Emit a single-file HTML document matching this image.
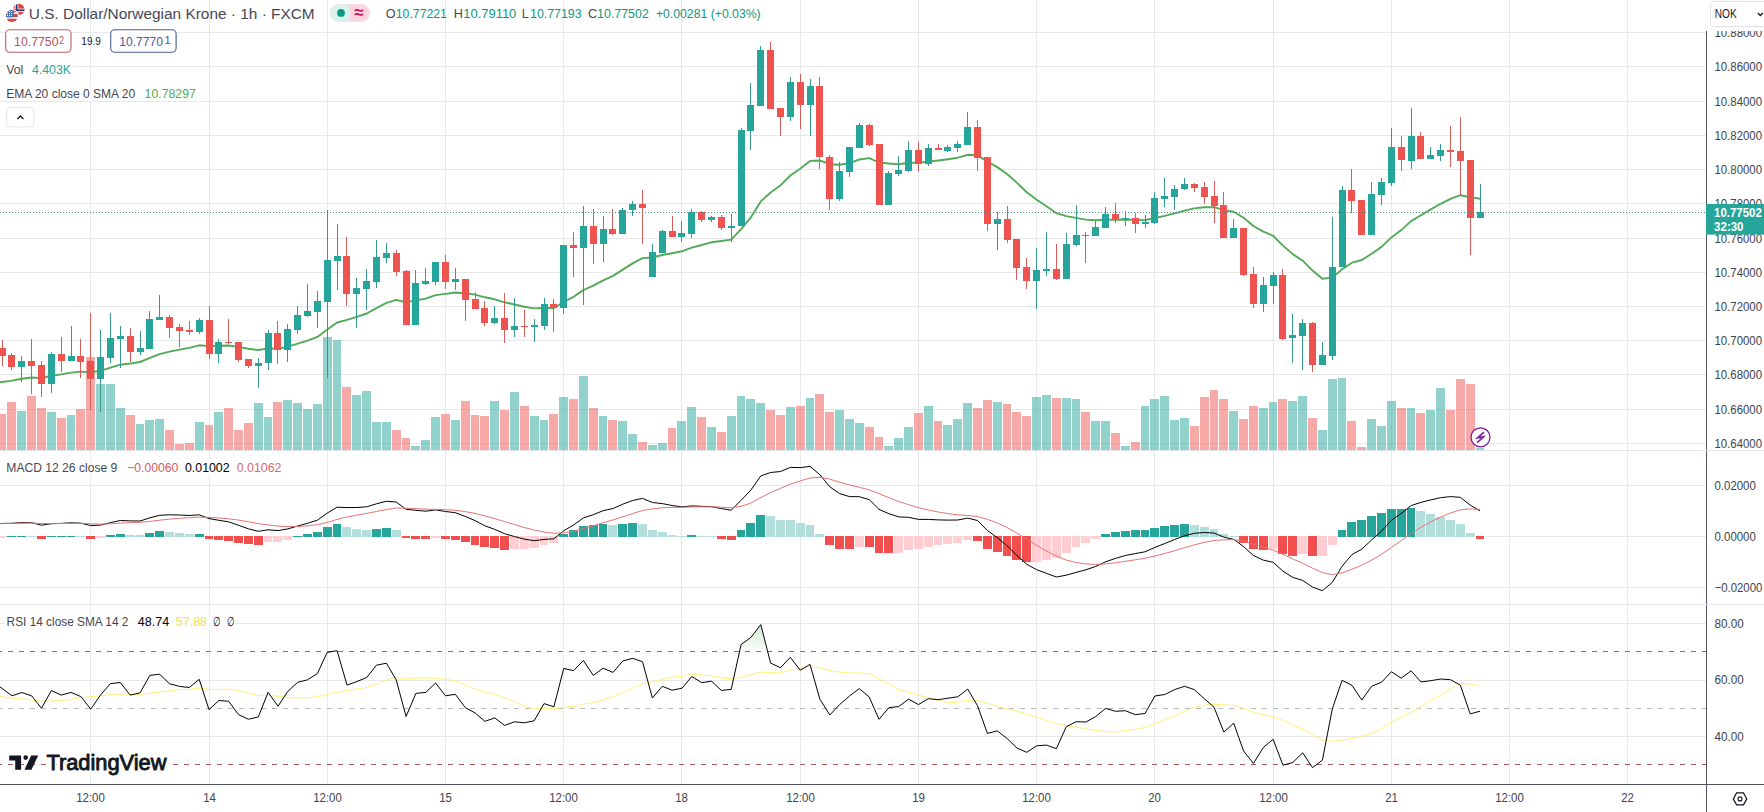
<!DOCTYPE html>
<html><head><meta charset="utf-8"><title>USDNOK chart</title><style>
html,body{margin:0;padding:0;background:#fff;}
body{width:1764px;height:812px;overflow:hidden;position:relative;}
</style></head><body>
<svg width="1764" height="812" viewBox="0 0 1764 812" font-family="Liberation Sans, Arial, sans-serif" style="position:absolute;left:0;top:0">
<rect width="1764" height="812" fill="#fff"/>
<rect x="90" y="0" width="1" height="784" fill="#e7e8eb"/>
<rect x="209" y="0" width="1" height="784" fill="#e7e8eb"/>
<rect x="327" y="0" width="1" height="784" fill="#e7e8eb"/>
<rect x="445" y="0" width="1" height="784" fill="#e7e8eb"/>
<rect x="563" y="0" width="1" height="784" fill="#e7e8eb"/>
<rect x="681" y="0" width="1" height="784" fill="#e7e8eb"/>
<rect x="800" y="0" width="1" height="784" fill="#e7e8eb"/>
<rect x="918" y="0" width="1" height="784" fill="#e7e8eb"/>
<rect x="1036" y="0" width="1" height="784" fill="#e7e8eb"/>
<rect x="1154" y="0" width="1" height="784" fill="#e7e8eb"/>
<rect x="1273" y="0" width="1" height="784" fill="#e7e8eb"/>
<rect x="1391" y="0" width="1" height="784" fill="#e7e8eb"/>
<rect x="1509" y="0" width="1" height="784" fill="#e7e8eb"/>
<rect x="1627" y="0" width="1" height="784" fill="#e7e8eb"/>
<rect x="0" y="443" width="1706" height="1" fill="#e7e8eb"/>
<rect x="0" y="409" width="1706" height="1" fill="#e7e8eb"/>
<rect x="0" y="374" width="1706" height="1" fill="#e7e8eb"/>
<rect x="0" y="340" width="1706" height="1" fill="#e7e8eb"/>
<rect x="0" y="306" width="1706" height="1" fill="#e7e8eb"/>
<rect x="0" y="272" width="1706" height="1" fill="#e7e8eb"/>
<rect x="0" y="238" width="1706" height="1" fill="#e7e8eb"/>
<rect x="0" y="203" width="1706" height="1" fill="#e7e8eb"/>
<rect x="0" y="169" width="1706" height="1" fill="#e7e8eb"/>
<rect x="0" y="135" width="1706" height="1" fill="#e7e8eb"/>
<rect x="0" y="101" width="1706" height="1" fill="#e7e8eb"/>
<rect x="0" y="66" width="1706" height="1" fill="#e7e8eb"/>
<rect x="0" y="32" width="1706" height="1" fill="#e7e8eb"/>
<rect x="0" y="485" width="1706" height="1" fill="#e7e8eb"/>
<rect x="0" y="536" width="1706" height="1" fill="#e7e8eb"/>
<rect x="0" y="587" width="1706" height="1" fill="#e7e8eb"/>
<rect x="0" y="623" width="1706" height="1" fill="#e7e8eb"/>
<rect x="0" y="680" width="1706" height="1" fill="#e7e8eb"/>
<rect x="0" y="736" width="1706" height="1" fill="#e7e8eb"/>
<rect x="-2" y="414" width="8" height="36" fill="rgba(239,83,80,0.5)"/>
<rect x="7" y="402" width="9" height="48" fill="rgba(239,83,80,0.5)"/>
<rect x="17" y="411" width="9" height="39" fill="rgba(38,166,154,0.5)"/>
<rect x="27" y="396" width="9" height="54" fill="rgba(239,83,80,0.5)"/>
<rect x="37" y="408" width="9" height="42" fill="rgba(239,83,80,0.5)"/>
<rect x="47" y="412" width="9" height="38" fill="rgba(38,166,154,0.5)"/>
<rect x="57" y="418" width="9" height="32" fill="rgba(239,83,80,0.5)"/>
<rect x="67" y="415" width="8" height="35" fill="rgba(38,166,154,0.5)"/>
<rect x="76" y="409" width="9" height="41" fill="rgba(239,83,80,0.5)"/>
<rect x="86" y="357" width="9" height="93" fill="rgba(239,83,80,0.5)"/>
<rect x="96" y="384" width="9" height="66" fill="rgba(38,166,154,0.5)"/>
<rect x="106" y="384" width="9" height="66" fill="rgba(38,166,154,0.5)"/>
<rect x="116" y="408" width="9" height="42" fill="rgba(38,166,154,0.5)"/>
<rect x="126" y="415" width="9" height="35" fill="rgba(239,83,80,0.5)"/>
<rect x="136" y="424" width="8" height="26" fill="rgba(38,166,154,0.5)"/>
<rect x="145" y="420" width="9" height="30" fill="rgba(38,166,154,0.5)"/>
<rect x="155" y="419" width="9" height="31" fill="rgba(38,166,154,0.5)"/>
<rect x="165" y="430" width="9" height="20" fill="rgba(239,83,80,0.5)"/>
<rect x="175" y="444" width="9" height="6" fill="rgba(239,83,80,0.5)"/>
<rect x="185" y="443" width="9" height="7" fill="rgba(239,83,80,0.5)"/>
<rect x="195" y="422" width="9" height="28" fill="rgba(38,166,154,0.5)"/>
<rect x="205" y="425" width="8" height="25" fill="rgba(239,83,80,0.5)"/>
<rect x="214" y="412" width="9" height="38" fill="rgba(38,166,154,0.5)"/>
<rect x="224" y="408" width="9" height="42" fill="rgba(239,83,80,0.5)"/>
<rect x="234" y="430" width="9" height="20" fill="rgba(239,83,80,0.5)"/>
<rect x="244" y="423" width="9" height="27" fill="rgba(239,83,80,0.5)"/>
<rect x="254" y="403" width="9" height="47" fill="rgba(38,166,154,0.5)"/>
<rect x="264" y="417" width="8" height="33" fill="rgba(38,166,154,0.5)"/>
<rect x="273" y="402" width="9" height="48" fill="rgba(239,83,80,0.5)"/>
<rect x="283" y="400" width="9" height="50" fill="rgba(38,166,154,0.5)"/>
<rect x="293" y="403" width="9" height="47" fill="rgba(38,166,154,0.5)"/>
<rect x="303" y="409" width="9" height="41" fill="rgba(38,166,154,0.5)"/>
<rect x="313" y="404" width="9" height="46" fill="rgba(38,166,154,0.5)"/>
<rect x="323" y="337" width="9" height="113" fill="rgba(38,166,154,0.5)"/>
<rect x="333" y="340" width="8" height="110" fill="rgba(38,166,154,0.5)"/>
<rect x="342" y="387" width="9" height="63" fill="rgba(239,83,80,0.5)"/>
<rect x="352" y="395" width="9" height="55" fill="rgba(38,166,154,0.5)"/>
<rect x="362" y="391" width="9" height="59" fill="rgba(38,166,154,0.5)"/>
<rect x="372" y="422" width="9" height="28" fill="rgba(38,166,154,0.5)"/>
<rect x="382" y="422" width="9" height="28" fill="rgba(38,166,154,0.5)"/>
<rect x="392" y="430" width="9" height="20" fill="rgba(239,83,80,0.5)"/>
<rect x="402" y="438" width="8" height="12" fill="rgba(239,83,80,0.5)"/>
<rect x="411" y="446" width="9" height="4" fill="rgba(38,166,154,0.5)"/>
<rect x="421" y="440" width="9" height="10" fill="rgba(38,166,154,0.5)"/>
<rect x="431" y="417" width="9" height="33" fill="rgba(38,166,154,0.5)"/>
<rect x="441" y="414" width="9" height="36" fill="rgba(239,83,80,0.5)"/>
<rect x="451" y="420" width="9" height="30" fill="rgba(38,166,154,0.5)"/>
<rect x="461" y="401" width="9" height="49" fill="rgba(239,83,80,0.5)"/>
<rect x="471" y="415" width="8" height="35" fill="rgba(239,83,80,0.5)"/>
<rect x="480" y="416" width="9" height="34" fill="rgba(239,83,80,0.5)"/>
<rect x="490" y="401" width="9" height="49" fill="rgba(38,166,154,0.5)"/>
<rect x="500" y="410" width="9" height="40" fill="rgba(239,83,80,0.5)"/>
<rect x="510" y="392" width="9" height="58" fill="rgba(38,166,154,0.5)"/>
<rect x="520" y="406" width="9" height="44" fill="rgba(239,83,80,0.5)"/>
<rect x="530" y="416" width="9" height="34" fill="rgba(38,166,154,0.5)"/>
<rect x="540" y="420" width="8" height="30" fill="rgba(38,166,154,0.5)"/>
<rect x="549" y="414" width="9" height="36" fill="rgba(239,83,80,0.5)"/>
<rect x="559" y="397" width="9" height="53" fill="rgba(38,166,154,0.5)"/>
<rect x="569" y="399" width="9" height="51" fill="rgba(239,83,80,0.5)"/>
<rect x="579" y="376" width="9" height="74" fill="rgba(38,166,154,0.5)"/>
<rect x="589" y="408" width="9" height="42" fill="rgba(239,83,80,0.5)"/>
<rect x="599" y="416" width="8" height="34" fill="rgba(38,166,154,0.5)"/>
<rect x="608" y="420" width="9" height="30" fill="rgba(239,83,80,0.5)"/>
<rect x="618" y="421" width="9" height="29" fill="rgba(38,166,154,0.5)"/>
<rect x="628" y="434" width="9" height="16" fill="rgba(38,166,154,0.5)"/>
<rect x="638" y="442" width="9" height="8" fill="rgba(239,83,80,0.5)"/>
<rect x="648" y="445" width="9" height="5" fill="rgba(38,166,154,0.5)"/>
<rect x="658" y="443" width="9" height="7" fill="rgba(38,166,154,0.5)"/>
<rect x="668" y="428" width="8" height="22" fill="rgba(239,83,80,0.5)"/>
<rect x="677" y="421" width="9" height="29" fill="rgba(38,166,154,0.5)"/>
<rect x="687" y="407" width="9" height="43" fill="rgba(38,166,154,0.5)"/>
<rect x="697" y="417" width="9" height="33" fill="rgba(239,83,80,0.5)"/>
<rect x="707" y="427" width="9" height="23" fill="rgba(38,166,154,0.5)"/>
<rect x="717" y="432" width="9" height="18" fill="rgba(239,83,80,0.5)"/>
<rect x="727" y="416" width="9" height="34" fill="rgba(38,166,154,0.5)"/>
<rect x="737" y="396" width="8" height="54" fill="rgba(38,166,154,0.5)"/>
<rect x="746" y="399" width="9" height="51" fill="rgba(38,166,154,0.5)"/>
<rect x="756" y="403" width="9" height="47" fill="rgba(38,166,154,0.5)"/>
<rect x="766" y="410" width="9" height="40" fill="rgba(239,83,80,0.5)"/>
<rect x="776" y="415" width="9" height="35" fill="rgba(239,83,80,0.5)"/>
<rect x="786" y="407" width="9" height="43" fill="rgba(38,166,154,0.5)"/>
<rect x="796" y="406" width="9" height="44" fill="rgba(239,83,80,0.5)"/>
<rect x="806" y="398" width="8" height="52" fill="rgba(38,166,154,0.5)"/>
<rect x="815" y="394" width="9" height="56" fill="rgba(239,83,80,0.5)"/>
<rect x="825" y="412" width="9" height="38" fill="rgba(239,83,80,0.5)"/>
<rect x="835" y="410" width="9" height="40" fill="rgba(38,166,154,0.5)"/>
<rect x="845" y="419" width="9" height="31" fill="rgba(38,166,154,0.5)"/>
<rect x="855" y="423" width="9" height="27" fill="rgba(38,166,154,0.5)"/>
<rect x="865" y="427" width="9" height="23" fill="rgba(239,83,80,0.5)"/>
<rect x="875" y="437" width="8" height="13" fill="rgba(239,83,80,0.5)"/>
<rect x="884" y="446" width="9" height="4" fill="rgba(38,166,154,0.5)"/>
<rect x="894" y="438" width="9" height="12" fill="rgba(38,166,154,0.5)"/>
<rect x="904" y="427" width="9" height="23" fill="rgba(38,166,154,0.5)"/>
<rect x="914" y="413" width="9" height="37" fill="rgba(239,83,80,0.5)"/>
<rect x="924" y="406" width="9" height="44" fill="rgba(38,166,154,0.5)"/>
<rect x="934" y="421" width="8" height="29" fill="rgba(239,83,80,0.5)"/>
<rect x="943" y="425" width="9" height="25" fill="rgba(38,166,154,0.5)"/>
<rect x="953" y="419" width="9" height="31" fill="rgba(38,166,154,0.5)"/>
<rect x="963" y="403" width="9" height="47" fill="rgba(38,166,154,0.5)"/>
<rect x="973" y="408" width="9" height="42" fill="rgba(239,83,80,0.5)"/>
<rect x="983" y="400" width="9" height="50" fill="rgba(239,83,80,0.5)"/>
<rect x="993" y="402" width="9" height="48" fill="rgba(38,166,154,0.5)"/>
<rect x="1003" y="404" width="8" height="46" fill="rgba(239,83,80,0.5)"/>
<rect x="1012" y="412" width="9" height="38" fill="rgba(239,83,80,0.5)"/>
<rect x="1022" y="416" width="9" height="34" fill="rgba(239,83,80,0.5)"/>
<rect x="1032" y="397" width="9" height="53" fill="rgba(38,166,154,0.5)"/>
<rect x="1042" y="395" width="9" height="55" fill="rgba(38,166,154,0.5)"/>
<rect x="1052" y="398" width="9" height="52" fill="rgba(239,83,80,0.5)"/>
<rect x="1062" y="398" width="9" height="52" fill="rgba(38,166,154,0.5)"/>
<rect x="1072" y="399" width="8" height="51" fill="rgba(38,166,154,0.5)"/>
<rect x="1081" y="412" width="9" height="38" fill="rgba(239,83,80,0.5)"/>
<rect x="1091" y="421" width="9" height="29" fill="rgba(38,166,154,0.5)"/>
<rect x="1101" y="421" width="9" height="29" fill="rgba(38,166,154,0.5)"/>
<rect x="1111" y="433" width="9" height="17" fill="rgba(239,83,80,0.5)"/>
<rect x="1121" y="446" width="9" height="4" fill="rgba(38,166,154,0.5)"/>
<rect x="1131" y="442" width="9" height="8" fill="rgba(239,83,80,0.5)"/>
<rect x="1141" y="406" width="8" height="44" fill="rgba(38,166,154,0.5)"/>
<rect x="1150" y="399" width="9" height="51" fill="rgba(38,166,154,0.5)"/>
<rect x="1160" y="396" width="9" height="54" fill="rgba(38,166,154,0.5)"/>
<rect x="1170" y="420" width="9" height="30" fill="rgba(38,166,154,0.5)"/>
<rect x="1180" y="418" width="9" height="32" fill="rgba(38,166,154,0.5)"/>
<rect x="1190" y="426" width="9" height="24" fill="rgba(239,83,80,0.5)"/>
<rect x="1200" y="397" width="9" height="53" fill="rgba(239,83,80,0.5)"/>
<rect x="1210" y="390" width="8" height="60" fill="rgba(239,83,80,0.5)"/>
<rect x="1219" y="399" width="9" height="51" fill="rgba(239,83,80,0.5)"/>
<rect x="1229" y="411" width="9" height="39" fill="rgba(38,166,154,0.5)"/>
<rect x="1239" y="419" width="9" height="31" fill="rgba(239,83,80,0.5)"/>
<rect x="1249" y="406" width="9" height="44" fill="rgba(239,83,80,0.5)"/>
<rect x="1259" y="408" width="9" height="42" fill="rgba(38,166,154,0.5)"/>
<rect x="1269" y="402" width="8" height="48" fill="rgba(38,166,154,0.5)"/>
<rect x="1278" y="399" width="9" height="51" fill="rgba(239,83,80,0.5)"/>
<rect x="1288" y="401" width="9" height="49" fill="rgba(38,166,154,0.5)"/>
<rect x="1298" y="396" width="9" height="54" fill="rgba(38,166,154,0.5)"/>
<rect x="1308" y="418" width="9" height="32" fill="rgba(239,83,80,0.5)"/>
<rect x="1318" y="430" width="9" height="20" fill="rgba(38,166,154,0.5)"/>
<rect x="1328" y="379" width="9" height="71" fill="rgba(38,166,154,0.5)"/>
<rect x="1338" y="378" width="8" height="72" fill="rgba(38,166,154,0.5)"/>
<rect x="1347" y="421" width="9" height="29" fill="rgba(239,83,80,0.5)"/>
<rect x="1357" y="447" width="9" height="3" fill="rgba(239,83,80,0.5)"/>
<rect x="1367" y="419" width="9" height="31" fill="rgba(38,166,154,0.5)"/>
<rect x="1377" y="426" width="9" height="24" fill="rgba(38,166,154,0.5)"/>
<rect x="1387" y="401" width="9" height="49" fill="rgba(38,166,154,0.5)"/>
<rect x="1397" y="408" width="9" height="42" fill="rgba(239,83,80,0.5)"/>
<rect x="1407" y="408" width="8" height="42" fill="rgba(38,166,154,0.5)"/>
<rect x="1416" y="413" width="9" height="37" fill="rgba(239,83,80,0.5)"/>
<rect x="1426" y="410" width="9" height="40" fill="rgba(38,166,154,0.5)"/>
<rect x="1436" y="388" width="9" height="62" fill="rgba(38,166,154,0.5)"/>
<rect x="1446" y="410" width="9" height="40" fill="rgba(239,83,80,0.5)"/>
<rect x="1456" y="379" width="9" height="71" fill="rgba(239,83,80,0.5)"/>
<rect x="1466" y="384" width="9" height="66" fill="rgba(239,83,80,0.5)"/>
<rect x="1476" y="448" width="8" height="2" fill="rgba(38,166,154,0.5)"/>
<polyline points="0.0,382.3 2.1,382.0 12.0,380.6 21.8,378.7 31.7,377.5 41.5,378.1 51.4,375.8 61.2,374.4 71.1,372.6 80.9,371.6 90.8,372.2 100.6,370.8 110.5,367.7 120.3,364.7 130.2,363.5 140.0,362.0 149.9,357.9 159.7,354.1 169.6,351.6 179.5,349.6 189.3,347.9 199.2,345.3 209.0,346.1 218.9,345.8 228.7,345.5 238.6,346.9 248.4,348.7 258.3,350.0 268.1,348.4 278.0,348.6 287.8,346.7 297.7,343.7 307.5,340.6 317.4,336.9 327.2,329.6 337.1,322.5 347.0,319.9 356.8,316.9 366.7,313.5 376.5,308.1 386.4,302.9 396.2,299.9 406.1,302.2 415.9,300.4 425.8,298.6 435.6,295.1 445.5,293.9 455.3,292.5 465.2,293.2 475.0,294.6 484.9,297.3 494.8,299.3 504.6,302.3 514.5,304.5 524.3,306.7 534.2,308.4 544.0,308.0 553.9,308.0 563.7,302.0 573.6,296.8 583.4,290.1 593.3,285.7 603.1,280.3 613.0,275.9 622.8,269.6 632.7,263.4 642.5,258.1 652.4,257.5 662.3,255.0 672.1,253.2 682.0,251.3 691.8,247.6 701.7,245.0 711.5,242.3 721.4,241.0 731.2,239.6 741.1,229.1 750.9,217.3 760.8,201.4 770.6,192.5 780.5,185.3 790.3,175.5 800.2,168.7 810.0,160.9 819.9,160.5 829.8,164.2 839.6,164.8 849.5,163.1 859.3,159.5 869.2,158.1 879.0,162.5 888.9,163.5 898.7,164.2 908.6,162.8 918.4,162.9 928.3,161.5 938.1,160.5 948.0,159.2 957.8,157.7 967.7,154.8 977.5,155.1 987.4,161.6 997.3,167.1 1007.1,174.0 1017.0,182.9 1026.8,192.3 1036.7,199.7 1046.5,206.3 1056.4,213.2 1066.2,216.1 1076.1,217.9 1085.9,219.6 1095.8,220.3 1105.6,219.8 1115.5,219.7 1125.3,219.5 1135.2,219.9 1145.0,220.1 1154.9,218.0 1164.8,215.9 1174.6,213.4 1184.5,210.6 1194.3,208.4 1204.2,207.3 1214.0,207.2 1223.9,210.1 1233.7,211.8 1243.6,217.8 1253.4,226.0 1263.3,231.6 1273.1,235.8 1283.0,245.6 1292.8,254.1 1302.7,260.7 1312.5,270.6 1322.4,278.7 1332.3,277.6 1342.1,269.2 1352.0,262.7 1361.8,260.0 1371.7,253.8 1381.5,246.9 1391.4,237.4 1401.2,230.1 1411.1,221.1 1420.9,215.2 1430.8,209.4 1440.6,203.8 1450.5,198.8 1460.3,195.2 1470.2,197.3 1480.0,198.7" fill="none" stroke="#52aa56" stroke-width="1.9" stroke-linejoin="round"/>
<rect x="2" y="340" width="1" height="26" fill="#d65d5a"/>
<rect x="-1" y="348" width="7" height="8" fill="#ef5350"/>
<rect x="11" y="353" width="1" height="17" fill="#d65d5a"/>
<rect x="8" y="355" width="7" height="12" fill="#ef5350"/>
<rect x="21" y="356" width="1" height="26" fill="#35998e"/>
<rect x="18" y="361" width="7" height="6" fill="#26a69a"/>
<rect x="31" y="339" width="1" height="55" fill="#d65d5a"/>
<rect x="28" y="361" width="7" height="5" fill="#ef5350"/>
<rect x="41" y="361" width="1" height="36" fill="#d65d5a"/>
<rect x="38" y="365" width="7" height="19" fill="#ef5350"/>
<rect x="51" y="352" width="1" height="41" fill="#35998e"/>
<rect x="48" y="354" width="7" height="30" fill="#26a69a"/>
<rect x="61" y="337" width="1" height="35" fill="#d65d5a"/>
<rect x="58" y="354" width="7" height="7" fill="#ef5350"/>
<rect x="71" y="326" width="1" height="35" fill="#35998e"/>
<rect x="68" y="356" width="7" height="5" fill="#26a69a"/>
<rect x="80" y="339" width="1" height="39" fill="#d65d5a"/>
<rect x="77" y="356" width="7" height="6" fill="#ef5350"/>
<rect x="90" y="313" width="1" height="97" fill="#d65d5a"/>
<rect x="87" y="361" width="7" height="18" fill="#ef5350"/>
<rect x="100" y="330" width="1" height="82" fill="#35998e"/>
<rect x="97" y="357" width="7" height="22" fill="#26a69a"/>
<rect x="110" y="313" width="1" height="50" fill="#35998e"/>
<rect x="107" y="338" width="7" height="20" fill="#26a69a"/>
<rect x="120" y="326" width="1" height="42" fill="#35998e"/>
<rect x="117" y="336" width="7" height="3" fill="#26a69a"/>
<rect x="130" y="328" width="1" height="34" fill="#d65d5a"/>
<rect x="127" y="336" width="7" height="16" fill="#ef5350"/>
<rect x="140" y="331" width="1" height="24" fill="#35998e"/>
<rect x="137" y="348" width="7" height="4" fill="#26a69a"/>
<rect x="149" y="311" width="1" height="38" fill="#35998e"/>
<rect x="146" y="319" width="7" height="30" fill="#26a69a"/>
<rect x="159" y="295" width="1" height="25" fill="#35998e"/>
<rect x="156" y="317" width="7" height="3" fill="#26a69a"/>
<rect x="169" y="315" width="1" height="23" fill="#d65d5a"/>
<rect x="166" y="317" width="7" height="11" fill="#ef5350"/>
<rect x="179" y="324" width="1" height="23" fill="#d65d5a"/>
<rect x="176" y="327" width="7" height="4" fill="#ef5350"/>
<rect x="189" y="321" width="1" height="14" fill="#d65d5a"/>
<rect x="186" y="330" width="7" height="2" fill="#ef5350"/>
<rect x="199" y="318" width="1" height="16" fill="#35998e"/>
<rect x="196" y="320" width="7" height="12" fill="#26a69a"/>
<rect x="209" y="306" width="1" height="53" fill="#d65d5a"/>
<rect x="206" y="320" width="7" height="34" fill="#ef5350"/>
<rect x="218" y="339" width="1" height="24" fill="#35998e"/>
<rect x="215" y="342" width="7" height="12" fill="#26a69a"/>
<rect x="228" y="319" width="1" height="25" fill="#d65d5a"/>
<rect x="225" y="342" width="7" height="1" fill="#ef5350"/>
<rect x="238" y="342" width="1" height="20" fill="#d65d5a"/>
<rect x="235" y="342" width="7" height="18" fill="#ef5350"/>
<rect x="248" y="359" width="1" height="9" fill="#d65d5a"/>
<rect x="245" y="359" width="7" height="7" fill="#ef5350"/>
<rect x="258" y="358" width="1" height="30" fill="#35998e"/>
<rect x="255" y="363" width="7" height="3" fill="#26a69a"/>
<rect x="268" y="330" width="1" height="40" fill="#35998e"/>
<rect x="265" y="333" width="7" height="30" fill="#26a69a"/>
<rect x="277" y="321" width="1" height="43" fill="#d65d5a"/>
<rect x="274" y="333" width="7" height="17" fill="#ef5350"/>
<rect x="287" y="324" width="1" height="38" fill="#35998e"/>
<rect x="284" y="329" width="7" height="21" fill="#26a69a"/>
<rect x="297" y="306" width="1" height="28" fill="#35998e"/>
<rect x="294" y="315" width="7" height="15" fill="#26a69a"/>
<rect x="307" y="284" width="1" height="33" fill="#35998e"/>
<rect x="304" y="311" width="7" height="5" fill="#26a69a"/>
<rect x="317" y="291" width="1" height="37" fill="#35998e"/>
<rect x="314" y="301" width="7" height="11" fill="#26a69a"/>
<rect x="327" y="210" width="1" height="168" fill="#35998e"/>
<rect x="324" y="260" width="7" height="42" fill="#26a69a"/>
<rect x="337" y="224" width="1" height="66" fill="#35998e"/>
<rect x="334" y="256" width="7" height="5" fill="#26a69a"/>
<rect x="346" y="237" width="1" height="69" fill="#d65d5a"/>
<rect x="343" y="256" width="7" height="38" fill="#ef5350"/>
<rect x="356" y="278" width="1" height="50" fill="#35998e"/>
<rect x="353" y="288" width="7" height="6" fill="#26a69a"/>
<rect x="366" y="269" width="1" height="41" fill="#35998e"/>
<rect x="363" y="281" width="7" height="8" fill="#26a69a"/>
<rect x="376" y="240" width="1" height="48" fill="#35998e"/>
<rect x="373" y="257" width="7" height="25" fill="#26a69a"/>
<rect x="386" y="243" width="1" height="20" fill="#35998e"/>
<rect x="383" y="253" width="7" height="5" fill="#26a69a"/>
<rect x="396" y="250" width="1" height="26" fill="#d65d5a"/>
<rect x="393" y="253" width="7" height="19" fill="#ef5350"/>
<rect x="406" y="270" width="1" height="55" fill="#d65d5a"/>
<rect x="403" y="271" width="7" height="54" fill="#ef5350"/>
<rect x="415" y="270" width="1" height="55" fill="#35998e"/>
<rect x="412" y="283" width="7" height="42" fill="#26a69a"/>
<rect x="425" y="268" width="1" height="17" fill="#35998e"/>
<rect x="422" y="281" width="7" height="3" fill="#26a69a"/>
<rect x="435" y="262" width="1" height="23" fill="#35998e"/>
<rect x="432" y="262" width="7" height="20" fill="#26a69a"/>
<rect x="445" y="255" width="1" height="34" fill="#d65d5a"/>
<rect x="442" y="262" width="7" height="20" fill="#ef5350"/>
<rect x="455" y="268" width="1" height="22" fill="#35998e"/>
<rect x="452" y="279" width="7" height="3" fill="#26a69a"/>
<rect x="465" y="279" width="1" height="42" fill="#d65d5a"/>
<rect x="462" y="279" width="7" height="21" fill="#ef5350"/>
<rect x="475" y="292" width="1" height="17" fill="#d65d5a"/>
<rect x="472" y="299" width="7" height="10" fill="#ef5350"/>
<rect x="484" y="301" width="1" height="25" fill="#d65d5a"/>
<rect x="481" y="308" width="7" height="15" fill="#ef5350"/>
<rect x="494" y="306" width="1" height="18" fill="#35998e"/>
<rect x="491" y="318" width="7" height="5" fill="#26a69a"/>
<rect x="504" y="293" width="1" height="50" fill="#d65d5a"/>
<rect x="501" y="318" width="7" height="12" fill="#ef5350"/>
<rect x="514" y="298" width="1" height="39" fill="#35998e"/>
<rect x="511" y="326" width="7" height="4" fill="#26a69a"/>
<rect x="524" y="310" width="1" height="27" fill="#d65d5a"/>
<rect x="521" y="326" width="7" height="1" fill="#ef5350"/>
<rect x="534" y="319" width="1" height="23" fill="#35998e"/>
<rect x="531" y="325" width="7" height="2" fill="#26a69a"/>
<rect x="544" y="298" width="1" height="32" fill="#35998e"/>
<rect x="541" y="304" width="7" height="22" fill="#26a69a"/>
<rect x="553" y="299" width="1" height="33" fill="#d65d5a"/>
<rect x="550" y="304" width="7" height="4" fill="#ef5350"/>
<rect x="563" y="245" width="1" height="69" fill="#35998e"/>
<rect x="560" y="245" width="7" height="63" fill="#26a69a"/>
<rect x="573" y="232" width="1" height="45" fill="#d65d5a"/>
<rect x="570" y="245" width="7" height="3" fill="#ef5350"/>
<rect x="583" y="206" width="1" height="99" fill="#35998e"/>
<rect x="580" y="226" width="7" height="22" fill="#26a69a"/>
<rect x="593" y="209" width="1" height="55" fill="#d65d5a"/>
<rect x="590" y="226" width="7" height="18" fill="#ef5350"/>
<rect x="603" y="216" width="1" height="46" fill="#35998e"/>
<rect x="600" y="229" width="7" height="15" fill="#26a69a"/>
<rect x="612" y="209" width="1" height="26" fill="#d65d5a"/>
<rect x="609" y="229" width="7" height="5" fill="#ef5350"/>
<rect x="622" y="208" width="1" height="26" fill="#35998e"/>
<rect x="619" y="210" width="7" height="24" fill="#26a69a"/>
<rect x="632" y="201" width="1" height="15" fill="#35998e"/>
<rect x="629" y="204" width="7" height="6" fill="#26a69a"/>
<rect x="642" y="190" width="1" height="54" fill="#d65d5a"/>
<rect x="639" y="204" width="7" height="4" fill="#ef5350"/>
<rect x="652" y="244" width="1" height="33" fill="#35998e"/>
<rect x="649" y="252" width="7" height="25" fill="#26a69a"/>
<rect x="662" y="230" width="1" height="23" fill="#35998e"/>
<rect x="659" y="231" width="7" height="22" fill="#26a69a"/>
<rect x="672" y="216" width="1" height="21" fill="#d65d5a"/>
<rect x="669" y="231" width="7" height="6" fill="#ef5350"/>
<rect x="681" y="221" width="1" height="21" fill="#35998e"/>
<rect x="678" y="233" width="7" height="4" fill="#26a69a"/>
<rect x="691" y="209" width="1" height="29" fill="#35998e"/>
<rect x="688" y="212" width="7" height="22" fill="#26a69a"/>
<rect x="701" y="211" width="1" height="11" fill="#d65d5a"/>
<rect x="698" y="212" width="7" height="8" fill="#ef5350"/>
<rect x="711" y="216" width="1" height="6" fill="#35998e"/>
<rect x="708" y="217" width="7" height="3" fill="#26a69a"/>
<rect x="721" y="215" width="1" height="15" fill="#d65d5a"/>
<rect x="718" y="217" width="7" height="11" fill="#ef5350"/>
<rect x="731" y="214" width="1" height="28" fill="#35998e"/>
<rect x="728" y="226" width="7" height="2" fill="#26a69a"/>
<rect x="741" y="128" width="1" height="98" fill="#35998e"/>
<rect x="738" y="130" width="7" height="96" fill="#26a69a"/>
<rect x="750" y="83" width="1" height="67" fill="#35998e"/>
<rect x="747" y="105" width="7" height="26" fill="#26a69a"/>
<rect x="760" y="46" width="1" height="60" fill="#35998e"/>
<rect x="757" y="50" width="7" height="56" fill="#26a69a"/>
<rect x="770" y="42" width="1" height="67" fill="#d65d5a"/>
<rect x="767" y="50" width="7" height="59" fill="#ef5350"/>
<rect x="780" y="108" width="1" height="28" fill="#d65d5a"/>
<rect x="777" y="108" width="7" height="9" fill="#ef5350"/>
<rect x="790" y="77" width="1" height="44" fill="#35998e"/>
<rect x="787" y="82" width="7" height="35" fill="#26a69a"/>
<rect x="800" y="74" width="1" height="55" fill="#d65d5a"/>
<rect x="797" y="82" width="7" height="23" fill="#ef5350"/>
<rect x="810" y="79" width="1" height="57" fill="#35998e"/>
<rect x="807" y="86" width="7" height="19" fill="#26a69a"/>
<rect x="819" y="77" width="1" height="92" fill="#d65d5a"/>
<rect x="816" y="86" width="7" height="71" fill="#ef5350"/>
<rect x="829" y="155" width="1" height="55" fill="#d65d5a"/>
<rect x="826" y="157" width="7" height="42" fill="#ef5350"/>
<rect x="839" y="162" width="1" height="39" fill="#35998e"/>
<rect x="836" y="171" width="7" height="28" fill="#26a69a"/>
<rect x="849" y="147" width="1" height="30" fill="#35998e"/>
<rect x="846" y="147" width="7" height="25" fill="#26a69a"/>
<rect x="859" y="123" width="1" height="25" fill="#35998e"/>
<rect x="856" y="125" width="7" height="23" fill="#26a69a"/>
<rect x="869" y="124" width="1" height="22" fill="#d65d5a"/>
<rect x="866" y="125" width="7" height="20" fill="#ef5350"/>
<rect x="879" y="144" width="1" height="61" fill="#d65d5a"/>
<rect x="876" y="144" width="7" height="61" fill="#ef5350"/>
<rect x="888" y="171" width="1" height="34" fill="#35998e"/>
<rect x="885" y="173" width="7" height="32" fill="#26a69a"/>
<rect x="898" y="156" width="1" height="20" fill="#35998e"/>
<rect x="895" y="170" width="7" height="4" fill="#26a69a"/>
<rect x="908" y="141" width="1" height="31" fill="#35998e"/>
<rect x="905" y="150" width="7" height="21" fill="#26a69a"/>
<rect x="918" y="142" width="1" height="30" fill="#d65d5a"/>
<rect x="915" y="150" width="7" height="14" fill="#ef5350"/>
<rect x="928" y="144" width="1" height="22" fill="#35998e"/>
<rect x="925" y="148" width="7" height="16" fill="#26a69a"/>
<rect x="938" y="144" width="1" height="6" fill="#d65d5a"/>
<rect x="935" y="148" width="7" height="2" fill="#ef5350"/>
<rect x="947" y="145" width="1" height="7" fill="#35998e"/>
<rect x="944" y="147" width="7" height="4" fill="#26a69a"/>
<rect x="957" y="141" width="1" height="11" fill="#35998e"/>
<rect x="954" y="144" width="7" height="4" fill="#26a69a"/>
<rect x="967" y="112" width="1" height="33" fill="#35998e"/>
<rect x="964" y="127" width="7" height="18" fill="#26a69a"/>
<rect x="977" y="120" width="1" height="51" fill="#d65d5a"/>
<rect x="974" y="127" width="7" height="31" fill="#ef5350"/>
<rect x="987" y="157" width="1" height="74" fill="#d65d5a"/>
<rect x="984" y="157" width="7" height="67" fill="#ef5350"/>
<rect x="997" y="212" width="1" height="38" fill="#35998e"/>
<rect x="994" y="219" width="7" height="5" fill="#26a69a"/>
<rect x="1007" y="206" width="1" height="37" fill="#d65d5a"/>
<rect x="1004" y="219" width="7" height="21" fill="#ef5350"/>
<rect x="1016" y="239" width="1" height="41" fill="#d65d5a"/>
<rect x="1013" y="239" width="7" height="29" fill="#ef5350"/>
<rect x="1026" y="258" width="1" height="31" fill="#d65d5a"/>
<rect x="1023" y="267" width="7" height="14" fill="#ef5350"/>
<rect x="1036" y="248" width="1" height="61" fill="#35998e"/>
<rect x="1033" y="270" width="7" height="11" fill="#26a69a"/>
<rect x="1046" y="232" width="1" height="44" fill="#35998e"/>
<rect x="1043" y="269" width="7" height="2" fill="#26a69a"/>
<rect x="1056" y="244" width="1" height="36" fill="#d65d5a"/>
<rect x="1053" y="269" width="7" height="10" fill="#ef5350"/>
<rect x="1066" y="233" width="1" height="46" fill="#35998e"/>
<rect x="1063" y="244" width="7" height="35" fill="#26a69a"/>
<rect x="1076" y="205" width="1" height="41" fill="#35998e"/>
<rect x="1073" y="235" width="7" height="10" fill="#26a69a"/>
<rect x="1085" y="232" width="1" height="31" fill="#d65d5a"/>
<rect x="1082" y="235" width="7" height="1" fill="#ef5350"/>
<rect x="1095" y="221" width="1" height="15" fill="#35998e"/>
<rect x="1092" y="227" width="7" height="9" fill="#26a69a"/>
<rect x="1105" y="207" width="1" height="21" fill="#35998e"/>
<rect x="1102" y="214" width="7" height="14" fill="#26a69a"/>
<rect x="1115" y="203" width="1" height="20" fill="#d65d5a"/>
<rect x="1112" y="214" width="7" height="5" fill="#ef5350"/>
<rect x="1125" y="211" width="1" height="15" fill="#35998e"/>
<rect x="1122" y="218" width="7" height="1" fill="#26a69a"/>
<rect x="1135" y="213" width="1" height="20" fill="#d65d5a"/>
<rect x="1132" y="218" width="7" height="6" fill="#ef5350"/>
<rect x="1145" y="215" width="1" height="13" fill="#35998e"/>
<rect x="1142" y="222" width="7" height="2" fill="#26a69a"/>
<rect x="1154" y="192" width="1" height="32" fill="#35998e"/>
<rect x="1151" y="198" width="7" height="25" fill="#26a69a"/>
<rect x="1164" y="178" width="1" height="29" fill="#35998e"/>
<rect x="1161" y="196" width="7" height="3" fill="#26a69a"/>
<rect x="1174" y="185" width="1" height="25" fill="#35998e"/>
<rect x="1171" y="189" width="7" height="8" fill="#26a69a"/>
<rect x="1184" y="178" width="1" height="12" fill="#35998e"/>
<rect x="1181" y="184" width="7" height="5" fill="#26a69a"/>
<rect x="1194" y="183" width="1" height="9" fill="#d65d5a"/>
<rect x="1191" y="184" width="7" height="4" fill="#ef5350"/>
<rect x="1204" y="182" width="1" height="22" fill="#d65d5a"/>
<rect x="1201" y="187" width="7" height="10" fill="#ef5350"/>
<rect x="1214" y="181" width="1" height="42" fill="#d65d5a"/>
<rect x="1211" y="196" width="7" height="10" fill="#ef5350"/>
<rect x="1223" y="192" width="1" height="46" fill="#d65d5a"/>
<rect x="1220" y="205" width="7" height="33" fill="#ef5350"/>
<rect x="1233" y="219" width="1" height="19" fill="#35998e"/>
<rect x="1230" y="228" width="7" height="10" fill="#26a69a"/>
<rect x="1243" y="228" width="1" height="48" fill="#d65d5a"/>
<rect x="1240" y="228" width="7" height="47" fill="#ef5350"/>
<rect x="1253" y="267" width="1" height="41" fill="#d65d5a"/>
<rect x="1250" y="274" width="7" height="30" fill="#ef5350"/>
<rect x="1263" y="277" width="1" height="35" fill="#35998e"/>
<rect x="1260" y="285" width="7" height="19" fill="#26a69a"/>
<rect x="1273" y="272" width="1" height="32" fill="#35998e"/>
<rect x="1270" y="275" width="7" height="11" fill="#26a69a"/>
<rect x="1282" y="269" width="1" height="71" fill="#d65d5a"/>
<rect x="1279" y="275" width="7" height="64" fill="#ef5350"/>
<rect x="1292" y="314" width="1" height="49" fill="#35998e"/>
<rect x="1289" y="335" width="7" height="3" fill="#26a69a"/>
<rect x="1302" y="319" width="1" height="51" fill="#35998e"/>
<rect x="1299" y="323" width="7" height="13" fill="#26a69a"/>
<rect x="1312" y="322" width="1" height="50" fill="#d65d5a"/>
<rect x="1309" y="323" width="7" height="42" fill="#ef5350"/>
<rect x="1322" y="342" width="1" height="23" fill="#35998e"/>
<rect x="1319" y="355" width="7" height="10" fill="#26a69a"/>
<rect x="1332" y="217" width="1" height="143" fill="#35998e"/>
<rect x="1329" y="267" width="7" height="89" fill="#26a69a"/>
<rect x="1342" y="186" width="1" height="81" fill="#35998e"/>
<rect x="1339" y="190" width="7" height="77" fill="#26a69a"/>
<rect x="1351" y="169" width="1" height="44" fill="#d65d5a"/>
<rect x="1348" y="190" width="7" height="11" fill="#ef5350"/>
<rect x="1361" y="200" width="1" height="35" fill="#d65d5a"/>
<rect x="1358" y="200" width="7" height="35" fill="#ef5350"/>
<rect x="1371" y="182" width="1" height="53" fill="#35998e"/>
<rect x="1368" y="194" width="7" height="41" fill="#26a69a"/>
<rect x="1381" y="178" width="1" height="27" fill="#35998e"/>
<rect x="1378" y="182" width="7" height="13" fill="#26a69a"/>
<rect x="1391" y="128" width="1" height="58" fill="#35998e"/>
<rect x="1388" y="147" width="7" height="36" fill="#26a69a"/>
<rect x="1401" y="136" width="1" height="35" fill="#d65d5a"/>
<rect x="1398" y="147" width="7" height="13" fill="#ef5350"/>
<rect x="1411" y="108" width="1" height="61" fill="#35998e"/>
<rect x="1408" y="136" width="7" height="25" fill="#26a69a"/>
<rect x="1420" y="132" width="1" height="27" fill="#d65d5a"/>
<rect x="1417" y="136" width="7" height="23" fill="#ef5350"/>
<rect x="1430" y="147" width="1" height="12" fill="#35998e"/>
<rect x="1427" y="155" width="7" height="4" fill="#26a69a"/>
<rect x="1440" y="144" width="1" height="17" fill="#35998e"/>
<rect x="1437" y="150" width="7" height="6" fill="#26a69a"/>
<rect x="1450" y="126" width="1" height="41" fill="#d65d5a"/>
<rect x="1447" y="150" width="7" height="2" fill="#ef5350"/>
<rect x="1460" y="117" width="1" height="79" fill="#d65d5a"/>
<rect x="1457" y="151" width="7" height="10" fill="#ef5350"/>
<rect x="1470" y="160" width="1" height="95" fill="#d65d5a"/>
<rect x="1467" y="160" width="7" height="58" fill="#ef5350"/>
<rect x="1480" y="184" width="1" height="34" fill="#35998e"/>
<rect x="1477" y="212" width="7" height="6" fill="#26a69a"/>
<line x1="0" y1="212.5" x2="1706" y2="212.5" stroke="#4b8a84" stroke-width="1" stroke-dasharray="1 2"/>
<circle cx="1480.5" cy="437.3" r="9.5" fill="#fff" stroke="#7b1fa2" stroke-width="1.3"/>
<polyline points="1483.4,432.6 1477.4,437.9 1483.6,436.8 1477.6,442.2" fill="none" stroke="#7b1fa2" stroke-width="1.6" stroke-linejoin="miter" stroke-linecap="round"/>
<rect x="-2" y="536" width="8" height="2" fill="#ffcdd2"/>
<rect x="7" y="536" width="9" height="1" fill="#26a69a"/>
<rect x="17" y="536" width="9" height="1" fill="#26a69a"/>
<rect x="27" y="536" width="9" height="1" fill="#b2dfdb"/>
<rect x="37" y="536" width="9" height="3" fill="#f24e4e"/>
<rect x="47" y="536" width="9" height="1" fill="#26a69a"/>
<rect x="57" y="536" width="9" height="1" fill="#26a69a"/>
<rect x="67" y="536" width="8" height="1" fill="#26a69a"/>
<rect x="76" y="536" width="9" height="1" fill="#b2dfdb"/>
<rect x="86" y="536" width="9" height="3" fill="#f24e4e"/>
<rect x="96" y="536" width="9" height="2" fill="#ffcdd2"/>
<rect x="106" y="535" width="9" height="2" fill="#26a69a"/>
<rect x="116" y="534" width="9" height="3" fill="#26a69a"/>
<rect x="126" y="535" width="9" height="2" fill="#b2dfdb"/>
<rect x="136" y="535" width="8" height="2" fill="#b2dfdb"/>
<rect x="145" y="533" width="9" height="4" fill="#26a69a"/>
<rect x="155" y="531" width="9" height="6" fill="#26a69a"/>
<rect x="165" y="532" width="9" height="5" fill="#b2dfdb"/>
<rect x="175" y="533" width="9" height="4" fill="#b2dfdb"/>
<rect x="185" y="534" width="9" height="3" fill="#b2dfdb"/>
<rect x="195" y="534" width="9" height="3" fill="#26a69a"/>
<rect x="205" y="536" width="8" height="3" fill="#f24e4e"/>
<rect x="214" y="536" width="9" height="4" fill="#f24e4e"/>
<rect x="224" y="536" width="9" height="5" fill="#f24e4e"/>
<rect x="234" y="536" width="9" height="7" fill="#f24e4e"/>
<rect x="244" y="536" width="9" height="8" fill="#f24e4e"/>
<rect x="254" y="536" width="9" height="9" fill="#f24e4e"/>
<rect x="264" y="536" width="8" height="6" fill="#ffcdd2"/>
<rect x="273" y="536" width="9" height="6" fill="#ffcdd2"/>
<rect x="283" y="536" width="9" height="4" fill="#ffcdd2"/>
<rect x="293" y="536" width="9" height="1" fill="#26a69a"/>
<rect x="303" y="534" width="9" height="3" fill="#26a69a"/>
<rect x="313" y="532" width="9" height="5" fill="#26a69a"/>
<rect x="323" y="527" width="9" height="10" fill="#26a69a"/>
<rect x="333" y="524" width="8" height="13" fill="#26a69a"/>
<rect x="342" y="527" width="9" height="10" fill="#b2dfdb"/>
<rect x="352" y="529" width="9" height="8" fill="#b2dfdb"/>
<rect x="362" y="530" width="9" height="7" fill="#b2dfdb"/>
<rect x="372" y="529" width="9" height="8" fill="#26a69a"/>
<rect x="382" y="528" width="9" height="9" fill="#26a69a"/>
<rect x="392" y="530" width="9" height="7" fill="#b2dfdb"/>
<rect x="402" y="536" width="8" height="2" fill="#f24e4e"/>
<rect x="411" y="536" width="9" height="3" fill="#f24e4e"/>
<rect x="421" y="536" width="9" height="3" fill="#f24e4e"/>
<rect x="431" y="536" width="9" height="2" fill="#ffcdd2"/>
<rect x="441" y="536" width="9" height="3" fill="#f24e4e"/>
<rect x="451" y="536" width="9" height="4" fill="#f24e4e"/>
<rect x="461" y="536" width="9" height="6" fill="#f24e4e"/>
<rect x="471" y="536" width="8" height="9" fill="#f24e4e"/>
<rect x="480" y="536" width="9" height="11" fill="#f24e4e"/>
<rect x="490" y="536" width="9" height="12" fill="#f24e4e"/>
<rect x="500" y="536" width="9" height="14" fill="#f24e4e"/>
<rect x="510" y="536" width="9" height="13" fill="#ffcdd2"/>
<rect x="520" y="536" width="9" height="13" fill="#ffcdd2"/>
<rect x="530" y="536" width="9" height="12" fill="#ffcdd2"/>
<rect x="540" y="536" width="8" height="9" fill="#ffcdd2"/>
<rect x="549" y="536" width="9" height="7" fill="#ffcdd2"/>
<rect x="559" y="534" width="9" height="3" fill="#26a69a"/>
<rect x="569" y="530" width="9" height="7" fill="#26a69a"/>
<rect x="579" y="526" width="9" height="11" fill="#26a69a"/>
<rect x="589" y="525" width="9" height="12" fill="#26a69a"/>
<rect x="599" y="524" width="8" height="13" fill="#26a69a"/>
<rect x="608" y="525" width="9" height="12" fill="#b2dfdb"/>
<rect x="618" y="524" width="9" height="13" fill="#26a69a"/>
<rect x="628" y="523" width="9" height="14" fill="#26a69a"/>
<rect x="638" y="524" width="9" height="13" fill="#b2dfdb"/>
<rect x="648" y="530" width="9" height="7" fill="#b2dfdb"/>
<rect x="658" y="532" width="9" height="5" fill="#b2dfdb"/>
<rect x="668" y="535" width="8" height="2" fill="#b2dfdb"/>
<rect x="677" y="536" width="9" height="1" fill="#b2dfdb"/>
<rect x="687" y="535" width="9" height="2" fill="#26a69a"/>
<rect x="697" y="536" width="9" height="1" fill="#b2dfdb"/>
<rect x="707" y="536" width="9" height="1" fill="#b2dfdb"/>
<rect x="717" y="536" width="9" height="3" fill="#f24e4e"/>
<rect x="727" y="536" width="9" height="4" fill="#f24e4e"/>
<rect x="737" y="530" width="8" height="7" fill="#26a69a"/>
<rect x="746" y="523" width="9" height="14" fill="#26a69a"/>
<rect x="756" y="515" width="9" height="22" fill="#26a69a"/>
<rect x="766" y="516" width="9" height="21" fill="#b2dfdb"/>
<rect x="776" y="520" width="9" height="17" fill="#b2dfdb"/>
<rect x="786" y="520" width="9" height="17" fill="#b2dfdb"/>
<rect x="796" y="523" width="9" height="14" fill="#b2dfdb"/>
<rect x="806" y="525" width="8" height="12" fill="#b2dfdb"/>
<rect x="815" y="534" width="9" height="3" fill="#b2dfdb"/>
<rect x="825" y="536" width="9" height="9" fill="#f24e4e"/>
<rect x="835" y="536" width="9" height="13" fill="#f24e4e"/>
<rect x="845" y="536" width="9" height="13" fill="#f24e4e"/>
<rect x="855" y="536" width="9" height="11" fill="#ffcdd2"/>
<rect x="865" y="536" width="9" height="11" fill="#f24e4e"/>
<rect x="875" y="536" width="8" height="17" fill="#f24e4e"/>
<rect x="884" y="536" width="9" height="17" fill="#f24e4e"/>
<rect x="894" y="536" width="9" height="17" fill="#ffcdd2"/>
<rect x="904" y="536" width="9" height="14" fill="#ffcdd2"/>
<rect x="914" y="536" width="9" height="13" fill="#ffcdd2"/>
<rect x="924" y="536" width="9" height="11" fill="#ffcdd2"/>
<rect x="934" y="536" width="8" height="9" fill="#ffcdd2"/>
<rect x="943" y="536" width="9" height="8" fill="#ffcdd2"/>
<rect x="953" y="536" width="9" height="7" fill="#ffcdd2"/>
<rect x="963" y="536" width="9" height="4" fill="#ffcdd2"/>
<rect x="973" y="536" width="9" height="5" fill="#f24e4e"/>
<rect x="983" y="536" width="9" height="13" fill="#f24e4e"/>
<rect x="993" y="536" width="9" height="16" fill="#f24e4e"/>
<rect x="1003" y="536" width="8" height="20" fill="#f24e4e"/>
<rect x="1012" y="536" width="9" height="24" fill="#f24e4e"/>
<rect x="1022" y="536" width="9" height="26" fill="#f24e4e"/>
<rect x="1032" y="536" width="9" height="26" fill="#ffcdd2"/>
<rect x="1042" y="536" width="9" height="24" fill="#ffcdd2"/>
<rect x="1052" y="536" width="9" height="22" fill="#ffcdd2"/>
<rect x="1062" y="536" width="9" height="17" fill="#ffcdd2"/>
<rect x="1072" y="536" width="8" height="11" fill="#ffcdd2"/>
<rect x="1081" y="536" width="9" height="7" fill="#ffcdd2"/>
<rect x="1091" y="536" width="9" height="3" fill="#ffcdd2"/>
<rect x="1101" y="534" width="9" height="3" fill="#26a69a"/>
<rect x="1111" y="532" width="9" height="5" fill="#26a69a"/>
<rect x="1121" y="531" width="9" height="6" fill="#26a69a"/>
<rect x="1131" y="530" width="9" height="7" fill="#26a69a"/>
<rect x="1141" y="530" width="8" height="7" fill="#26a69a"/>
<rect x="1150" y="528" width="9" height="9" fill="#26a69a"/>
<rect x="1160" y="526" width="9" height="11" fill="#26a69a"/>
<rect x="1170" y="525" width="9" height="12" fill="#26a69a"/>
<rect x="1180" y="524" width="9" height="13" fill="#26a69a"/>
<rect x="1190" y="525" width="9" height="12" fill="#b2dfdb"/>
<rect x="1200" y="527" width="9" height="10" fill="#b2dfdb"/>
<rect x="1210" y="529" width="8" height="8" fill="#b2dfdb"/>
<rect x="1219" y="534" width="9" height="3" fill="#b2dfdb"/>
<rect x="1229" y="536" width="9" height="1" fill="#b2dfdb"/>
<rect x="1239" y="536" width="9" height="7" fill="#f24e4e"/>
<rect x="1249" y="536" width="9" height="13" fill="#f24e4e"/>
<rect x="1259" y="536" width="9" height="14" fill="#f24e4e"/>
<rect x="1269" y="536" width="8" height="13" fill="#ffcdd2"/>
<rect x="1278" y="536" width="9" height="18" fill="#f24e4e"/>
<rect x="1288" y="536" width="9" height="20" fill="#f24e4e"/>
<rect x="1298" y="536" width="9" height="18" fill="#ffcdd2"/>
<rect x="1308" y="536" width="9" height="20" fill="#f24e4e"/>
<rect x="1318" y="536" width="9" height="20" fill="#ffcdd2"/>
<rect x="1328" y="536" width="9" height="9" fill="#ffcdd2"/>
<rect x="1338" y="530" width="8" height="7" fill="#26a69a"/>
<rect x="1347" y="522" width="9" height="15" fill="#26a69a"/>
<rect x="1357" y="520" width="9" height="17" fill="#26a69a"/>
<rect x="1367" y="516" width="9" height="21" fill="#26a69a"/>
<rect x="1377" y="513" width="9" height="24" fill="#26a69a"/>
<rect x="1387" y="509" width="9" height="28" fill="#26a69a"/>
<rect x="1397" y="509" width="9" height="28" fill="#26a69a"/>
<rect x="1407" y="508" width="8" height="29" fill="#26a69a"/>
<rect x="1416" y="511" width="9" height="26" fill="#b2dfdb"/>
<rect x="1426" y="514" width="9" height="23" fill="#b2dfdb"/>
<rect x="1436" y="517" width="9" height="20" fill="#b2dfdb"/>
<rect x="1446" y="520" width="9" height="17" fill="#b2dfdb"/>
<rect x="1456" y="524" width="9" height="13" fill="#b2dfdb"/>
<rect x="1466" y="533" width="9" height="4" fill="#b2dfdb"/>
<rect x="1476" y="536" width="8" height="3" fill="#f24e4e"/>
<polyline points="0.0,523.6 2.1,523.5 12.0,523.3 21.8,522.6 31.7,522.7 41.5,525.2 51.4,523.7 61.2,523.4 71.1,522.8 80.9,523.2 90.8,525.6 100.6,525.1 110.5,522.6 120.3,520.5 130.2,520.9 140.0,521.0 149.9,517.8 159.7,515.3 169.6,514.8 179.5,515.0 189.3,515.5 199.2,514.8 209.0,518.6 218.9,520.3 228.7,521.9 238.6,525.3 248.4,528.8 258.3,531.3 268.1,529.8 278.0,530.6 287.8,528.9 297.7,526.0 307.5,523.3 317.4,520.2 327.2,513.1 337.1,507.2 347.0,507.6 356.8,507.5 366.7,506.8 376.5,503.8 386.4,501.3 396.2,502.0 406.1,509.3 415.9,510.3 425.8,511.2 435.6,509.9 445.5,511.5 455.3,512.7 465.2,516.4 475.0,520.6 484.9,525.8 494.8,529.4 504.6,533.7 514.5,536.6 524.3,539.1 534.2,540.7 544.0,539.4 553.9,538.8 563.7,530.8 573.6,525.0 583.4,517.9 593.3,514.7 603.1,510.7 613.0,508.5 622.8,504.2 632.7,500.5 642.5,498.4 652.4,502.5 662.3,503.6 672.1,505.5 682.0,506.9 691.8,505.9 701.7,506.3 711.5,506.7 721.4,508.6 731.2,510.2 741.1,500.3 750.9,490.0 760.8,475.9 770.6,472.5 780.5,471.5 790.3,467.4 800.2,467.6 810.0,466.4 819.9,474.7 829.8,486.8 839.6,493.6 849.5,496.6 859.3,496.7 869.2,499.6 879.0,509.4 888.9,513.7 898.7,516.9 908.6,517.3 918.4,519.4 928.3,519.4 938.1,519.9 948.0,520.1 957.8,520.0 967.7,518.1 977.5,520.5 987.4,530.5 997.3,537.7 1007.1,545.8 1017.0,555.5 1026.8,564.3 1036.7,569.7 1046.5,573.4 1056.4,577.0 1066.2,575.2 1076.1,572.4 1085.9,569.8 1095.8,566.4 1105.6,561.8 1115.5,558.4 1125.3,555.5 1135.2,553.6 1145.0,551.8 1154.9,547.4 1164.8,543.5 1174.6,539.5 1184.5,535.8 1194.3,533.3 1204.2,532.5 1214.0,533.0 1223.9,537.2 1233.7,539.4 1243.6,546.6 1253.4,555.5 1263.3,560.1 1273.1,562.3 1283.0,571.2 1292.8,577.4 1302.7,580.4 1312.5,587.1 1322.4,590.7 1332.3,582.4 1342.1,566.2 1352.0,554.5 1361.8,549.1 1371.7,539.9 1381.5,531.2 1391.4,520.3 1401.2,513.5 1411.1,505.6 1420.9,502.4 1430.8,499.9 1440.6,497.7 1450.5,496.6 1460.3,497.3 1470.2,505.1 1480.0,510.9" fill="none" stroke="#000" stroke-width="1" stroke-linejoin="round"/>
<polyline points="0.0,523.4 2.1,523.4 12.0,523.4 21.8,523.2 31.7,523.1 41.5,523.5 51.4,523.6 61.2,523.5 71.1,523.4 80.9,523.3 90.8,523.8 100.6,524.1 110.5,523.8 120.3,523.1 130.2,522.7 140.0,522.3 149.9,521.4 159.7,520.2 169.6,519.1 179.5,518.3 189.3,517.7 199.2,517.1 209.0,517.4 218.9,518.0 228.7,518.8 238.6,520.1 248.4,521.8 258.3,523.7 268.1,524.9 278.0,526.1 287.8,526.6 297.7,526.5 307.5,525.9 317.4,524.7 327.2,522.4 337.1,519.4 347.0,517.0 356.8,515.1 366.7,513.4 376.5,511.5 386.4,509.5 396.2,508.0 406.1,508.2 415.9,508.7 425.8,509.2 435.6,509.3 445.5,509.7 455.3,510.3 465.2,511.6 475.0,513.4 484.9,515.9 494.8,518.6 504.6,521.6 514.5,524.6 524.3,527.5 534.2,530.1 544.0,532.0 553.9,533.3 563.7,532.8 573.6,531.3 583.4,528.6 593.3,525.8 603.1,522.8 613.0,519.9 622.8,516.8 632.7,513.5 642.5,510.5 652.4,508.9 662.3,507.8 672.1,507.4 682.0,507.3 691.8,507.0 701.7,506.9 711.5,506.8 721.4,507.2 731.2,507.8 741.1,506.3 750.9,503.0 760.8,497.6 770.6,492.6 780.5,488.4 790.3,484.2 800.2,480.9 810.0,478.0 819.9,477.3 829.8,479.2 839.6,482.1 849.5,485.0 859.3,487.3 869.2,489.8 879.0,493.7 888.9,497.7 898.7,501.5 908.6,504.7 918.4,507.6 928.3,510.0 938.1,512.0 948.0,513.6 957.8,514.9 967.7,515.5 977.5,516.5 987.4,519.3 997.3,523.0 1007.1,527.6 1017.0,533.1 1026.8,539.4 1036.7,545.4 1046.5,551.0 1056.4,556.2 1066.2,560.0 1076.1,562.5 1085.9,564.0 1095.8,564.4 1105.6,563.9 1115.5,562.8 1125.3,561.3 1135.2,559.8 1145.0,558.2 1154.9,556.0 1164.8,553.5 1174.6,550.7 1184.5,547.7 1194.3,544.9 1204.2,542.4 1214.0,540.5 1223.9,539.8 1233.7,539.7 1243.6,541.1 1253.4,544.0 1263.3,547.2 1273.1,550.2 1283.0,554.4 1292.8,559.0 1302.7,563.3 1312.5,568.1 1322.4,572.6 1332.3,574.6 1342.1,572.9 1352.0,569.2 1361.8,565.2 1371.7,560.1 1381.5,554.3 1391.4,547.5 1401.2,540.7 1411.1,533.7 1420.9,527.4 1430.8,521.9 1440.6,517.1 1450.5,513.0 1460.3,509.9 1470.2,508.9 1480.0,509.3" fill="none" stroke="#e57373" stroke-width="1" stroke-linejoin="round"/>
<line x1="0" y1="651.5" x2="1706" y2="651.5" stroke="#5a8a66" stroke-width="1" stroke-dasharray="5 6" stroke-dashoffset="3"/>
<line x1="0" y1="708.5" x2="1706" y2="708.5" stroke="#b5b8bf" stroke-width="1" stroke-dasharray="5 6" stroke-dashoffset="3"/>
<line x1="0" y1="764.5" x2="1706" y2="764.5" stroke="#a85a5a" stroke-width="1" stroke-dasharray="5 6" stroke-dashoffset="3"/>
<defs><linearGradient id="ob" gradientUnits="userSpaceOnUse" x1="0" y1="623" x2="0" y2="651.5"><stop offset="0" stop-color="#4caf50" stop-opacity="0.28"/><stop offset="1" stop-color="#4caf50" stop-opacity="0.02"/></linearGradient><clipPath id="obc"><rect x="0" y="600" width="1706" height="51.5"/></clipPath><linearGradient id="os" gradientUnits="userSpaceOnUse" x1="0" y1="764.5" x2="0" y2="784"><stop offset="0" stop-color="#ef5350" stop-opacity="0.02"/><stop offset="1" stop-color="#ef5350" stop-opacity="0.2"/></linearGradient><clipPath id="osc"><rect x="0" y="764.5" width="1706" height="20"/></clipPath></defs>
<polygon points="2.1,651.5 2.1,688.4 12.0,695.8 21.8,692.5 31.7,695.9 41.5,708.3 51.4,690.5 61.2,695.1 71.1,692.4 80.9,696.6 90.8,709.2 100.6,694.9 110.5,683.6 120.3,682.5 130.2,695.1 140.0,692.9 149.9,675.3 159.7,674.3 169.6,683.8 179.5,686.4 189.3,687.5 199.2,679.3 209.0,709.7 218.9,700.5 228.7,701.3 238.6,714.7 248.4,719.2 258.3,717.0 268.1,692.3 278.0,706.2 287.8,691.4 297.7,682.3 307.5,679.8 317.4,673.5 327.2,652.4 337.1,650.7 347.0,685.1 356.8,681.6 366.7,677.5 376.5,665.2 386.4,663.2 396.2,679.9 406.1,716.5 415.9,693.4 425.8,692.4 435.6,683.0 445.5,695.8 455.3,694.3 465.2,707.5 475.0,712.9 484.9,721.3 494.8,717.9 504.6,725.4 514.5,721.8 524.3,722.8 534.2,720.8 544.0,703.6 553.9,706.8 563.7,668.5 573.6,670.6 583.4,660.5 593.3,675.4 603.1,668.2 613.0,672.4 622.8,661.0 632.7,658.3 642.5,661.8 652.4,698.0 662.3,686.3 672.1,690.2 682.0,688.2 691.8,676.5 701.7,682.7 711.5,681.2 721.4,690.4 731.2,689.4 741.1,644.5 750.9,637.4 760.8,624.6 770.6,663.1 780.5,667.7 790.3,657.3 800.2,670.2 810.0,664.4 819.9,699.2 829.8,715.0 839.6,704.6 849.5,696.0 859.3,688.6 869.2,697.0 879.0,719.3 888.9,707.6 898.7,706.6 908.6,699.1 918.4,704.6 928.3,698.7 938.1,699.7 948.0,698.2 957.8,696.8 967.7,689.1 977.5,705.7 987.4,733.4 997.3,730.9 1007.1,738.5 1017.0,748.1 1026.8,752.3 1036.7,745.8 1046.5,745.1 1056.4,748.7 1066.2,726.8 1076.1,721.7 1085.9,722.0 1095.8,716.5 1105.6,708.4 1115.5,711.3 1125.3,710.7 1135.2,714.6 1145.0,713.5 1154.9,696.0 1164.8,694.5 1174.6,689.6 1184.5,686.3 1194.3,689.6 1204.2,698.6 1214.0,707.2 1223.9,732.1 1233.7,723.2 1243.6,751.0 1253.4,763.4 1263.3,747.5 1273.1,739.3 1283.0,765.2 1292.8,762.5 1302.7,752.8 1312.5,767.6 1322.4,760.2 1332.3,708.9 1342.1,680.3 1352.0,685.4 1361.8,700.0 1371.7,686.2 1381.5,682.3 1391.4,671.7 1401.2,678.2 1411.1,670.8 1420.9,681.9 1430.8,680.7 1440.6,679.0 1450.5,679.7 1460.3,685.1 1470.2,713.9 1480.0,711.2 1480.0,651.5" fill="url(#ob)" clip-path="url(#obc)"/>
<polygon points="2.1,764.5 2.1,688.4 12.0,695.8 21.8,692.5 31.7,695.9 41.5,708.3 51.4,690.5 61.2,695.1 71.1,692.4 80.9,696.6 90.8,709.2 100.6,694.9 110.5,683.6 120.3,682.5 130.2,695.1 140.0,692.9 149.9,675.3 159.7,674.3 169.6,683.8 179.5,686.4 189.3,687.5 199.2,679.3 209.0,709.7 218.9,700.5 228.7,701.3 238.6,714.7 248.4,719.2 258.3,717.0 268.1,692.3 278.0,706.2 287.8,691.4 297.7,682.3 307.5,679.8 317.4,673.5 327.2,652.4 337.1,650.7 347.0,685.1 356.8,681.6 366.7,677.5 376.5,665.2 386.4,663.2 396.2,679.9 406.1,716.5 415.9,693.4 425.8,692.4 435.6,683.0 445.5,695.8 455.3,694.3 465.2,707.5 475.0,712.9 484.9,721.3 494.8,717.9 504.6,725.4 514.5,721.8 524.3,722.8 534.2,720.8 544.0,703.6 553.9,706.8 563.7,668.5 573.6,670.6 583.4,660.5 593.3,675.4 603.1,668.2 613.0,672.4 622.8,661.0 632.7,658.3 642.5,661.8 652.4,698.0 662.3,686.3 672.1,690.2 682.0,688.2 691.8,676.5 701.7,682.7 711.5,681.2 721.4,690.4 731.2,689.4 741.1,644.5 750.9,637.4 760.8,624.6 770.6,663.1 780.5,667.7 790.3,657.3 800.2,670.2 810.0,664.4 819.9,699.2 829.8,715.0 839.6,704.6 849.5,696.0 859.3,688.6 869.2,697.0 879.0,719.3 888.9,707.6 898.7,706.6 908.6,699.1 918.4,704.6 928.3,698.7 938.1,699.7 948.0,698.2 957.8,696.8 967.7,689.1 977.5,705.7 987.4,733.4 997.3,730.9 1007.1,738.5 1017.0,748.1 1026.8,752.3 1036.7,745.8 1046.5,745.1 1056.4,748.7 1066.2,726.8 1076.1,721.7 1085.9,722.0 1095.8,716.5 1105.6,708.4 1115.5,711.3 1125.3,710.7 1135.2,714.6 1145.0,713.5 1154.9,696.0 1164.8,694.5 1174.6,689.6 1184.5,686.3 1194.3,689.6 1204.2,698.6 1214.0,707.2 1223.9,732.1 1233.7,723.2 1243.6,751.0 1253.4,763.4 1263.3,747.5 1273.1,739.3 1283.0,765.2 1292.8,762.5 1302.7,752.8 1312.5,767.6 1322.4,760.2 1332.3,708.9 1342.1,680.3 1352.0,685.4 1361.8,700.0 1371.7,686.2 1381.5,682.3 1391.4,671.7 1401.2,678.2 1411.1,670.8 1420.9,681.9 1430.8,680.7 1440.6,679.0 1450.5,679.7 1460.3,685.1 1470.2,713.9 1480.0,711.2 1480.0,764.5" fill="url(#os)" clip-path="url(#osc)"/>
<polyline points="0.0,696.3 2.1,696.7 12.0,698.2 21.8,699.0 31.7,700.1 41.5,701.3 51.4,701.1 61.2,700.6 71.1,699.3 80.9,697.5 90.8,696.9 100.6,695.8 110.5,694.7 120.3,694.0 130.2,694.3 140.0,694.7 149.9,693.2 159.7,691.9 169.6,691.0 179.5,689.5 189.3,689.3 199.2,688.1 209.0,689.4 218.9,689.6 228.7,689.1 238.6,690.5 248.4,693.0 258.3,695.5 268.1,695.3 278.0,696.2 287.8,697.4 297.7,698.0 307.5,697.7 317.4,696.8 327.2,694.3 337.1,692.2 347.0,690.5 356.8,689.1 366.7,687.4 376.5,683.9 386.4,679.9 396.2,677.2 406.1,679.0 415.9,678.0 425.8,678.1 435.6,678.2 445.5,679.3 455.3,680.8 465.2,684.7 475.0,689.2 484.9,691.8 494.8,694.3 504.6,697.8 514.5,701.8 524.3,706.1 534.2,709.0 544.0,708.1 553.9,709.0 563.7,707.3 573.6,706.4 583.4,703.9 593.3,702.6 603.1,699.7 613.0,696.9 622.8,692.5 632.7,688.3 642.5,683.7 652.4,682.0 662.3,679.4 672.1,677.3 682.0,676.2 691.8,674.0 701.7,675.0 711.5,675.8 721.4,677.9 731.2,678.9 741.1,677.2 750.9,674.7 760.8,672.1 770.6,672.5 780.5,672.9 790.3,670.0 800.2,668.8 810.0,667.0 819.9,667.8 829.8,670.5 839.6,672.1 849.5,673.1 859.3,673.0 869.2,673.5 879.0,678.9 888.9,683.9 898.7,689.8 908.6,692.3 918.4,695.0 928.3,697.9 938.1,700.0 948.0,702.4 957.8,702.3 967.7,700.4 977.5,700.5 987.4,703.2 997.3,706.2 1007.1,709.2 1017.0,711.2 1026.8,714.4 1036.7,717.2 1046.5,720.5 1056.4,723.6 1066.2,725.6 1076.1,727.2 1085.9,728.9 1095.8,730.3 1105.6,731.7 1115.5,732.1 1125.3,730.5 1135.2,729.3 1145.0,727.5 1154.9,723.8 1164.8,719.7 1174.6,715.7 1184.5,711.5 1194.3,707.3 1204.2,705.2 1214.0,704.2 1223.9,704.9 1233.7,705.4 1243.6,708.5 1253.4,712.2 1263.3,714.8 1273.1,716.6 1283.0,720.3 1292.8,725.0 1302.7,729.2 1312.5,734.7 1322.4,740.0 1332.3,741.4 1342.1,740.1 1352.0,738.5 1361.8,736.2 1371.7,733.6 1381.5,728.7 1391.4,722.1 1401.2,717.2 1411.1,712.3 1420.9,706.4 1430.8,700.5 1440.6,695.2 1450.5,689.0 1460.3,683.6 1470.2,684.0 1480.0,686.2" fill="none" stroke="#fff176" stroke-width="1" stroke-linejoin="round"/>
<polyline points="0.0,686.9 2.1,688.4 12.0,695.8 21.8,692.5 31.7,695.9 41.5,708.3 51.4,690.5 61.2,695.1 71.1,692.4 80.9,696.6 90.8,709.2 100.6,694.9 110.5,683.6 120.3,682.5 130.2,695.1 140.0,692.9 149.9,675.3 159.7,674.3 169.6,683.8 179.5,686.4 189.3,687.5 199.2,679.3 209.0,709.7 218.9,700.5 228.7,701.3 238.6,714.7 248.4,719.2 258.3,717.0 268.1,692.3 278.0,706.2 287.8,691.4 297.7,682.3 307.5,679.8 317.4,673.5 327.2,652.4 337.1,650.7 347.0,685.1 356.8,681.6 366.7,677.5 376.5,665.2 386.4,663.2 396.2,679.9 406.1,716.5 415.9,693.4 425.8,692.4 435.6,683.0 445.5,695.8 455.3,694.3 465.2,707.5 475.0,712.9 484.9,721.3 494.8,717.9 504.6,725.4 514.5,721.8 524.3,722.8 534.2,720.8 544.0,703.6 553.9,706.8 563.7,668.5 573.6,670.6 583.4,660.5 593.3,675.4 603.1,668.2 613.0,672.4 622.8,661.0 632.7,658.3 642.5,661.8 652.4,698.0 662.3,686.3 672.1,690.2 682.0,688.2 691.8,676.5 701.7,682.7 711.5,681.2 721.4,690.4 731.2,689.4 741.1,644.5 750.9,637.4 760.8,624.6 770.6,663.1 780.5,667.7 790.3,657.3 800.2,670.2 810.0,664.4 819.9,699.2 829.8,715.0 839.6,704.6 849.5,696.0 859.3,688.6 869.2,697.0 879.0,719.3 888.9,707.6 898.7,706.6 908.6,699.1 918.4,704.6 928.3,698.7 938.1,699.7 948.0,698.2 957.8,696.8 967.7,689.1 977.5,705.7 987.4,733.4 997.3,730.9 1007.1,738.5 1017.0,748.1 1026.8,752.3 1036.7,745.8 1046.5,745.1 1056.4,748.7 1066.2,726.8 1076.1,721.7 1085.9,722.0 1095.8,716.5 1105.6,708.4 1115.5,711.3 1125.3,710.7 1135.2,714.6 1145.0,713.5 1154.9,696.0 1164.8,694.5 1174.6,689.6 1184.5,686.3 1194.3,689.6 1204.2,698.6 1214.0,707.2 1223.9,732.1 1233.7,723.2 1243.6,751.0 1253.4,763.4 1263.3,747.5 1273.1,739.3 1283.0,765.2 1292.8,762.5 1302.7,752.8 1312.5,767.6 1322.4,760.2 1332.3,708.9 1342.1,680.3 1352.0,685.4 1361.8,700.0 1371.7,686.2 1381.5,682.3 1391.4,671.7 1401.2,678.2 1411.1,670.8 1420.9,681.9 1430.8,680.7 1440.6,679.0 1450.5,679.7 1460.3,685.1 1470.2,713.9 1480.0,711.2" fill="none" stroke="#000" stroke-width="1" stroke-linejoin="round"/>
<rect x="0" y="784" width="1764" height="1" fill="#50535e"/>
<rect x="1706" y="31" width="1" height="781" fill="#50535e"/>
<rect x="0" y="450" width="1764" height="1" fill="#e0e3eb"/>
<rect x="0" y="604" width="1764" height="1" fill="#e0e3eb"/>
<text x="1714.5" y="447.9" font-size="12.5" fill="#40434d" textLength="47.5" lengthAdjust="spacingAndGlyphs">10.64000</text>
<text x="1714.5" y="413.9" font-size="12.5" fill="#40434d" textLength="47.5" lengthAdjust="spacingAndGlyphs">10.66000</text>
<text x="1714.5" y="378.9" font-size="12.5" fill="#40434d" textLength="47.5" lengthAdjust="spacingAndGlyphs">10.68000</text>
<text x="1714.5" y="344.9" font-size="12.5" fill="#40434d" textLength="47.5" lengthAdjust="spacingAndGlyphs">10.70000</text>
<text x="1714.5" y="310.9" font-size="12.5" fill="#40434d" textLength="47.5" lengthAdjust="spacingAndGlyphs">10.72000</text>
<text x="1714.5" y="276.9" font-size="12.5" fill="#40434d" textLength="47.5" lengthAdjust="spacingAndGlyphs">10.74000</text>
<text x="1714.5" y="242.9" font-size="12.5" fill="#40434d" textLength="47.5" lengthAdjust="spacingAndGlyphs">10.76000</text>
<text x="1714.5" y="207.9" font-size="12.5" fill="#40434d" textLength="47.5" lengthAdjust="spacingAndGlyphs">10.78000</text>
<text x="1714.5" y="173.9" font-size="12.5" fill="#40434d" textLength="47.5" lengthAdjust="spacingAndGlyphs">10.80000</text>
<text x="1714.5" y="139.9" font-size="12.5" fill="#40434d" textLength="47.5" lengthAdjust="spacingAndGlyphs">10.82000</text>
<text x="1714.5" y="105.9" font-size="12.5" fill="#40434d" textLength="47.5" lengthAdjust="spacingAndGlyphs">10.84000</text>
<text x="1714.5" y="70.9" font-size="12.5" fill="#40434d" textLength="47.5" lengthAdjust="spacingAndGlyphs">10.86000</text>
<text x="1714.5" y="36.9" font-size="12.5" fill="#40434d" textLength="47.5" lengthAdjust="spacingAndGlyphs">10.88000</text>
<text x="1714.5" y="489.8" font-size="12.5" fill="#40434d" textLength="41.3" lengthAdjust="spacingAndGlyphs">0.02000</text>
<text x="1714.5" y="540.8" font-size="12.5" fill="#40434d" textLength="41.3" lengthAdjust="spacingAndGlyphs">0.00000</text>
<text x="1714.5" y="591.8" font-size="12.5" fill="#40434d" textLength="47.8" lengthAdjust="spacingAndGlyphs">−0.02000</text>
<text x="1714.5" y="627.7" font-size="12.5" fill="#40434d" textLength="29.2" lengthAdjust="spacingAndGlyphs">80.00</text>
<text x="1714.5" y="684.1" font-size="12.5" fill="#40434d" textLength="29.2" lengthAdjust="spacingAndGlyphs">60.00</text>
<text x="1714.5" y="740.5" font-size="12.5" fill="#40434d" textLength="29.2" lengthAdjust="spacingAndGlyphs">40.00</text>
<rect x="1707" y="0" width="57" height="31" fill="#fff"/>
<rect x="1710.5" y="1.5" width="60" height="25" rx="3" fill="#fff" stroke="#e0e3eb"/>
<text x="1714.8" y="17.7" font-size="12" fill="#131722" textLength="21.9" lengthAdjust="spacingAndGlyphs">NOK</text>
<polyline points="1757.8,13 1760.3,15.5 1762.8,13" fill="none" stroke="#131722" stroke-width="1.3"/>
<rect x="1706" y="204" width="58" height="30.6" fill="#26a69a"/>
<text x="1714.1" y="216.7" font-size="11.9" fill="#fff" font-weight="bold" textLength="47.7" lengthAdjust="spacingAndGlyphs">10.77502</text>
<text x="1714.1" y="230.5" font-size="11.9" fill="#fff" font-weight="bold" textLength="29.4" lengthAdjust="spacingAndGlyphs">32:30</text>
<text x="90.5" y="802.3" font-size="12.5" fill="#40434d" text-anchor="middle" textLength="28.6" lengthAdjust="spacingAndGlyphs">12:00</text>
<text x="209.5" y="802.3" font-size="12.5" fill="#40434d" text-anchor="middle" textLength="12.7" lengthAdjust="spacingAndGlyphs">14</text>
<text x="327.5" y="802.3" font-size="12.5" fill="#40434d" text-anchor="middle" textLength="28.6" lengthAdjust="spacingAndGlyphs">12:00</text>
<text x="445.5" y="802.3" font-size="12.5" fill="#40434d" text-anchor="middle" textLength="12.7" lengthAdjust="spacingAndGlyphs">15</text>
<text x="563.5" y="802.3" font-size="12.5" fill="#40434d" text-anchor="middle" textLength="28.6" lengthAdjust="spacingAndGlyphs">12:00</text>
<text x="681.5" y="802.3" font-size="12.5" fill="#40434d" text-anchor="middle" textLength="12.7" lengthAdjust="spacingAndGlyphs">18</text>
<text x="800.5" y="802.3" font-size="12.5" fill="#40434d" text-anchor="middle" textLength="28.6" lengthAdjust="spacingAndGlyphs">12:00</text>
<text x="918.5" y="802.3" font-size="12.5" fill="#40434d" text-anchor="middle" textLength="12.7" lengthAdjust="spacingAndGlyphs">19</text>
<text x="1036.5" y="802.3" font-size="12.5" fill="#40434d" text-anchor="middle" textLength="28.6" lengthAdjust="spacingAndGlyphs">12:00</text>
<text x="1154.5" y="802.3" font-size="12.5" fill="#40434d" text-anchor="middle" textLength="12.7" lengthAdjust="spacingAndGlyphs">20</text>
<text x="1273.5" y="802.3" font-size="12.5" fill="#40434d" text-anchor="middle" textLength="28.6" lengthAdjust="spacingAndGlyphs">12:00</text>
<text x="1391.5" y="802.3" font-size="12.5" fill="#40434d" text-anchor="middle" textLength="12.7" lengthAdjust="spacingAndGlyphs">21</text>
<text x="1509.5" y="802.3" font-size="12.5" fill="#40434d" text-anchor="middle" textLength="28.6" lengthAdjust="spacingAndGlyphs">12:00</text>
<text x="1627.5" y="802.3" font-size="12.5" fill="#40434d" text-anchor="middle" textLength="12.7" lengthAdjust="spacingAndGlyphs">22</text>
<polygon points="1733.3,798.9 1736.6,792.9 1743.5,792.9 1746.8,798.9 1743.5,804.9 1736.6,804.9" fill="none" stroke="#131722" stroke-width="1.2"/>
<circle cx="1740" cy="798.9" r="2" fill="none" stroke="#131722" stroke-width="1.1"/>
<defs><clipPath id="cu"><circle cx="11.9" cy="16.0" r="5.9"/></clipPath><clipPath id="cn"><circle cx="18.9" cy="9.4" r="5.6"/></clipPath></defs>
<g clip-path="url(#cn)"><rect x="12" y="3" width="13" height="13" fill="#d9463f"/><rect x="14.9" y="3" width="3.4" height="13" fill="#fff"/><rect x="12" y="8.6" width="13" height="3.2" fill="#fff"/><rect x="15.7" y="3" width="1.8" height="13" fill="#27357e"/><rect x="12" y="9.4" width="13" height="1.6" fill="#27357e"/></g>
<circle cx="11.9" cy="16.0" r="7.0" fill="#fff"/>
<g clip-path="url(#cu)"><rect x="5" y="9" width="14" height="14" fill="#fff"/><rect x="5" y="9" width="14" height="3.4" fill="#dc5a55"/><rect x="5" y="14" width="14" height="3.1" fill="#c9484a"/><rect x="5" y="18.7" width="14" height="4" fill="#d2474c"/><rect x="5" y="9" width="8.6" height="8.3" fill="#3c6db5"/><circle cx="7.4" cy="11.4" r="0.65" fill="#e6f2ff"/><circle cx="7.4" cy="13.5" r="0.65" fill="#e6f2ff"/><circle cx="7.4" cy="15.5" r="0.65" fill="#e6f2ff"/><circle cx="9.5" cy="11.4" r="0.65" fill="#e6f2ff"/><circle cx="9.5" cy="13.5" r="0.65" fill="#e6f2ff"/><circle cx="9.5" cy="15.5" r="0.65" fill="#e6f2ff"/><circle cx="11.5" cy="11.4" r="0.65" fill="#e6f2ff"/><circle cx="11.5" cy="13.5" r="0.65" fill="#e6f2ff"/><circle cx="11.5" cy="15.5" r="0.65" fill="#e6f2ff"/></g>
<text x="28.8" y="18.5" font-size="15.1" fill="#454852" textLength="285.9" lengthAdjust="spacingAndGlyphs">U.S. Dollar/Norwegian Krone · 1h · FXCM</text>
<rect x="330.2" y="4.3" width="39.7" height="17.4" rx="8.7" fill="#fcd3e1"/>
<path d="M339,4.3 H349.7 V21.7 H339 A8.7,8.7 0 0 1 339,4.3 Z" fill="#dbf1ec"/>
<circle cx="341" cy="12.9" r="3.9" fill="#089981"/>
<text x="358.9" y="17.6" font-size="17" fill="#c2185b" text-anchor="middle" font-weight="bold">≈</text>
<text x="385.7" y="17.9" font-size="12.7" fill="#444751">O</text>
<text x="395.8" y="17.9" font-size="12.7" fill="#089981" textLength="51.1" lengthAdjust="spacingAndGlyphs">10.77221</text>
<text x="453.7" y="17.9" font-size="12.7" fill="#444751">H</text>
<text x="463.3" y="17.9" font-size="12.7" fill="#089981" textLength="53.0" lengthAdjust="spacingAndGlyphs">10.79110</text>
<text x="521.8" y="17.9" font-size="12.7" fill="#444751">L</text>
<text x="530.0" y="17.9" font-size="12.7" fill="#089981" textLength="51.6" lengthAdjust="spacingAndGlyphs">10.77193</text>
<text x="587.9" y="17.9" font-size="12.7" fill="#444751">C</text>
<text x="597.1" y="17.9" font-size="12.7" fill="#089981" textLength="51.7" lengthAdjust="spacingAndGlyphs">10.77502</text>
<text x="655.9" y="17.9" font-size="12.7" fill="#089981" textLength="104.8" lengthAdjust="spacingAndGlyphs">+0.00281 (+0.03%)</text>
<rect x="5.7" y="29.7" width="65.3" height="22.6" rx="4" fill="#fff" stroke="#b8606a" stroke-width="1.1"/>
<text x="14.1" y="45.7" font-size="12.4" fill="#b9505a" textLength="44.4" lengthAdjust="spacingAndGlyphs">10.7750</text>
<text x="59.2" y="44.1" font-size="11.3" fill="#b9505a" textLength="4.8" lengthAdjust="spacingAndGlyphs">2</text>
<text x="81.3" y="44.7" font-size="10.4" fill="#131722" textLength="19.6" lengthAdjust="spacingAndGlyphs">19.9</text>
<rect x="110.7" y="29.7" width="65.4" height="22.5" rx="4" fill="#fff" stroke="#4b5d8f" stroke-width="1.1"/>
<text x="119.3" y="45.8" font-size="12.4" fill="#4a5a9e" textLength="43.6" lengthAdjust="spacingAndGlyphs">10.7770</text>
<text x="164.5" y="43.6" font-size="11" fill="#4a5a9e">1</text>
<rect x="4" y="61" width="70" height="16" fill="#fff" fill-opacity="0.75"/>
<rect x="4" y="85" width="194" height="16" fill="#fff" fill-opacity="0.75"/>
<rect x="4" y="459" width="281" height="17" fill="#fff" fill-opacity="0.75"/>
<rect x="4" y="613" width="233" height="17" fill="#fff" fill-opacity="0.75"/>
<text x="6.2" y="73.8" font-size="12.9" fill="#444751" textLength="17" lengthAdjust="spacingAndGlyphs">Vol</text>
<text x="31.9" y="73.8" font-size="12.9" fill="#26a69a" textLength="39.2" lengthAdjust="spacingAndGlyphs">4.403K</text>
<text x="6.2" y="97.9" font-size="12.9" fill="#444751" textLength="129" lengthAdjust="spacingAndGlyphs">EMA 20 close 0 SMA 20</text>
<text x="144.6" y="97.9" font-size="12.9" fill="#4caf50" textLength="51.2" lengthAdjust="spacingAndGlyphs">10.78297</text>
<rect x="6.7" y="107.7" width="27.2" height="19.2" rx="3" fill="#fff" stroke="#e0e3eb"/>
<polyline points="17.4,119 20.4,116 23.4,119" fill="none" stroke="#131722" stroke-width="1.4"/>
<text x="6.3" y="471.8" font-size="12.5" fill="#444751" textLength="111" lengthAdjust="spacingAndGlyphs">MACD 12 26 close 9</text>
<text x="127.2" y="471.8" font-size="12.5" fill="#d65c5c" textLength="51" lengthAdjust="spacingAndGlyphs">−0.00060</text>
<text x="185.0" y="471.8" font-size="12.5" fill="#000" textLength="44.6" lengthAdjust="spacingAndGlyphs">0.01002</text>
<text x="236.7" y="471.8" font-size="12.5" fill="#d86a6a" textLength="44.8" lengthAdjust="spacingAndGlyphs">0.01062</text>
<text x="6.6" y="625.9" font-size="12.5" fill="#444751" textLength="121.8" lengthAdjust="spacingAndGlyphs">RSI 14 close SMA 14 2</text>
<text x="137.8" y="625.9" font-size="12.5" fill="#000" textLength="31.4" lengthAdjust="spacingAndGlyphs">48.74</text>
<text x="175.7" y="625.9" font-size="12.5" fill="#f0df5a" textLength="31.4" lengthAdjust="spacingAndGlyphs">57.88</text>
<text x="213.2" y="625.9" font-size="12.5" fill="#000" textLength="7.2" lengthAdjust="spacingAndGlyphs">∅</text>
<text x="227.4" y="625.9" font-size="12.5" fill="#000" textLength="7.2" lengthAdjust="spacingAndGlyphs">∅</text>
<path d="M9.2,755.4 H21.1 V769.7 H15.2 V760.4 H9.2 Z" fill="#131722"/>
<circle cx="25.7" cy="757.6" r="2.3" fill="#131722"/>
<polygon points="31.2,755.4 38.2,755.4 31.5,769.7 24.5,769.7" fill="#131722"/>
<text x="46.4" y="769.7" font-size="21.2" fill="#fff" textLength="120" lengthAdjust="spacingAndGlyphs" stroke="#fff" stroke-width="4.5" stroke-linejoin="round">TradingView</text>
<text x="46.4" y="769.7" font-size="21.2" fill="#131722" textLength="120" lengthAdjust="spacingAndGlyphs" stroke="#131722" stroke-width="0.9" stroke-linejoin="round">TradingView</text>
</svg>
</body></html>
